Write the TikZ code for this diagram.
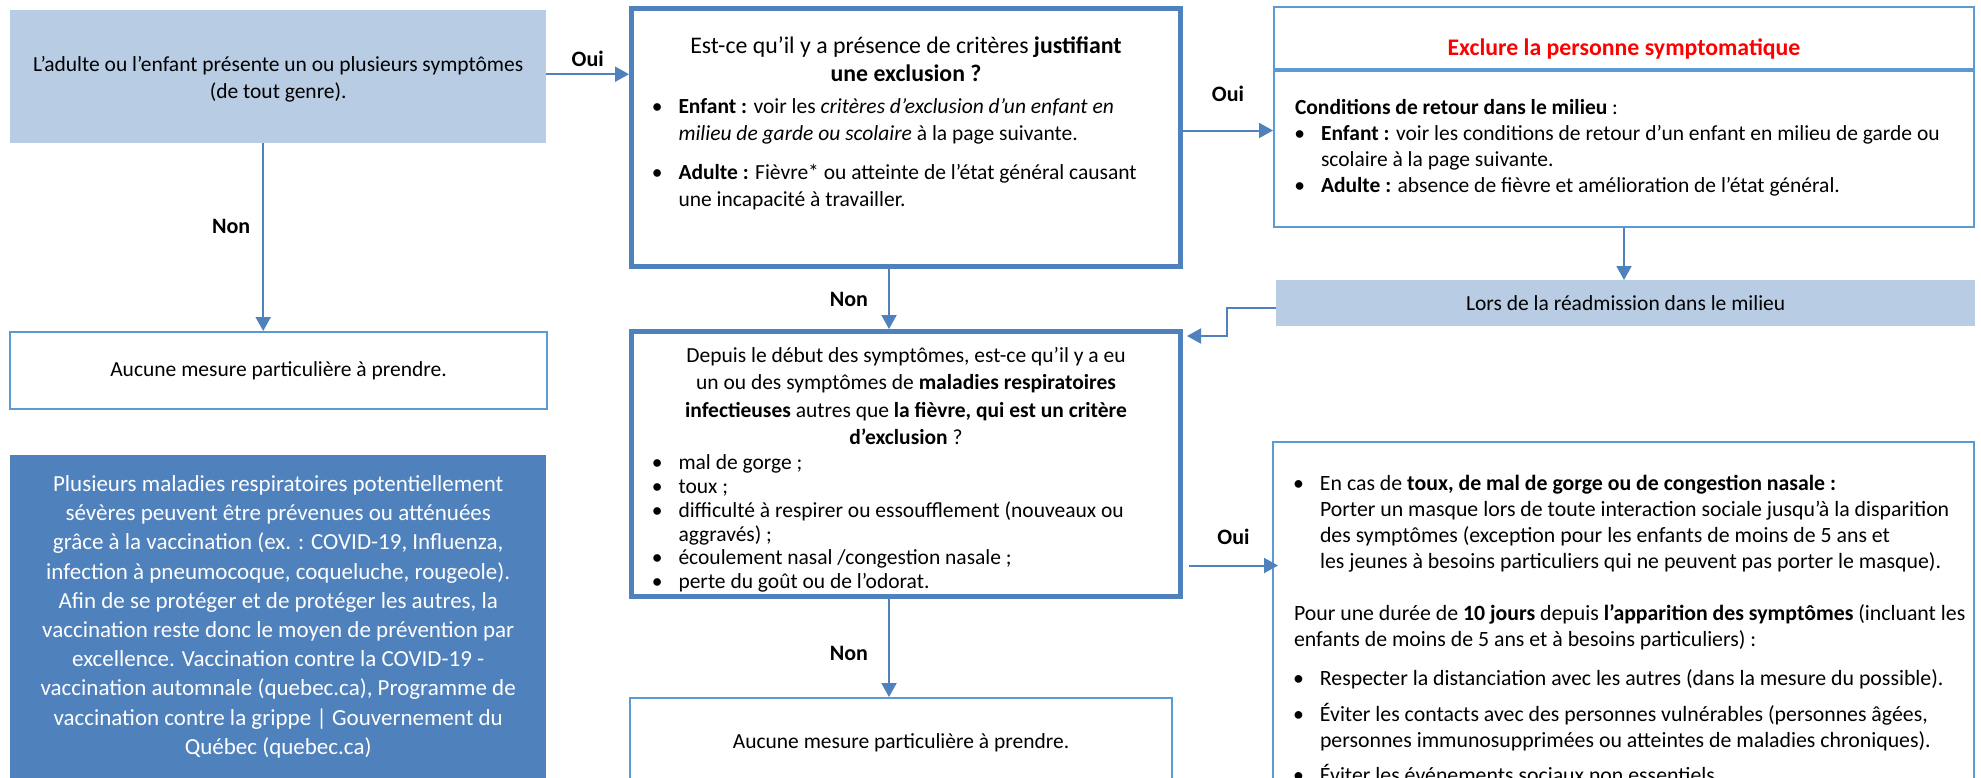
\documentclass[tikz,border=0pt]{standalone}
\usepackage{fontspec}
\setmainfont{Carlito}
\usetikzlibrary{arrows.meta,positioning}

\definecolor{bleu}{RGB}{79,129,189}
\definecolor{bleuclair}{RGB}{91,155,213}
\definecolor{bleupale}{RGB}{184,204,228}
\definecolor{rouge}{RGB}{255,0,0}

\newcommand{\premiere}[1]{\vspace*{\dimexpr#1pt-\ht\strutbox\relax}}
\newcommand{\entete}[2][\baselineskip]{{\centering\baselineskip=#1\relax\strut#2\par}}
\newcommand{\ligne}[1]{{\raggedright\leftskip=21pt\relax\noindent\strut#1\par}}
\newcommand{\puce}[1]{{\raggedright\leftskip=47pt\relax\noindent\llap{\textbullet\hspace{16pt}}\strut#1\par}}

\begin{document}
\begin{tikzpicture}[x=1pt,y=-1pt,
		texte/.style={font=\fontsize{21.5}{26}\selectfont},
		boite/.style={texte, draw=bleuclair, line width=2pt, anchor=north west, inner sep=0pt},
		boitegrasse/.style={texte, draw=bleu, line width=5pt, anchor=north west, inner sep=0pt},
		bandeau/.style={texte, fill=bleupale, anchor=north west, inner sep=0pt},
		fleche/.style={draw=bleu, line width=2pt, -{Triangle[width=15pt,length=14pt]}},
		reponse/.style={font=\fontsize{22}{24}\selectfont\bfseries, inner sep=0pt}]
		\useasboundingbox (0,0) rectangle (1981,777);
		\clip (0,0) rectangle (1981,777);
		\fill [white] (0,0) rectangle (1981,777);
		%Symptômes
		\node [bandeau] (depart) at (10,10) {\parbox[c][133pt][t]{536pt}{\fontsize{21.5}{27.5}\selectfont
				\premiere{61}
				\entete{L’adulte ou l’enfant présente un ou plusieurs symptômes\\(de tout genre).}}};
		\node [boite, minimum width=537pt, minimum height=77pt] (aucune) at (9,331) {Aucune mesure particulière à prendre.};
		%Critères d'exclusion
		\node [boitegrasse] (exclusion) at (629,6) {\parbox[c][258pt][t]{549pt}{\fontsize{21.5}{27.5}\selectfont
				\premiere{44}
				{\fontsize{23.8}{28.5}\selectfont\entete{Est-ce qu’il y a présence de critères \textbf{justifiant}\\\textbf{une exclusion ?}}}
				\vspace{4pt}
				\puce{\textbf{Enfant :} voir les \textit{critères d’exclusion d’un enfant en}\\\textit{milieu de garde ou scolaire} à la page suivante.}
				\vspace{11pt}
				\puce{\textbf{Adulte :} Fièvre* ou atteinte de l’état général causant\\une incapacité à travailler.}}};
		%Exclusion
		\node [boite] (exclure) at (1273,6) {\parbox[c][62pt][t]{700pt}{
				\premiere{47}
				{\fontsize{23.8}{28}\selectfont\entete{\textcolor{rouge}{\textbf{Exclure la personne symptomatique}}}}}};
		\node [boite] (conditions) at (exclure.south west) {\parbox[c][156pt][t]{700pt}{\fontsize{21.5}{26.3}\selectfont
				\premiere{43}
				\ligne{\textbf{Conditions de retour dans le milieu} :}
				\puce{\textbf{Enfant :} voir les conditions de retour d’un enfant en milieu de garde ou\\scolaire à la page suivante.}
				\puce{\textbf{Adulte :} absence de fièvre et amélioration de l’état général.}}};
		\node [bandeau, minimum width=699pt, minimum height=46pt] (readmission) at (1276,280) {Lors de la réadmission dans le milieu};
		%Maladies respiratoires
		\node [boitegrasse] (respiratoire) at (629,329) {\parbox[c][265pt][t]{549pt}{\fontsize{21.5}{23.7}\selectfont
				\premiere{31}
				\entete[27.4pt]{Depuis le début des symptômes, est-ce qu’il y a eu\\un ou des symptômes de \textbf{maladies respiratoires}\\\textbf{infectieuses} autres que \textbf{la fièvre, qui est un critère}\\\textbf{d’exclusion} ?}
				\vspace{1.5pt}
				\puce{mal de gorge ;}
				\puce{toux ;}
				\puce{difficulté à respirer ou essoufflement (nouveaux ou\\aggravés) ;}
				\puce{écoulement nasal /congestion nasale ;}
				\puce{perte du goût ou de l’odorat.}}};
		\node [boite, minimum width=542pt, minimum height=90pt] (aucune2) at (629,697) {Aucune mesure particulière à prendre.};
		%Mesures
		\node [boite] (mesures) at (1272,441) {\parbox[c][360pt][t]{701pt}{\fontsize{21.8}{26}\selectfont
				\premiere{48}
				\puce{En cas de \textbf{toux, de mal de gorge ou de congestion nasale :}\\Porter un masque lors de toute interaction sociale jusqu’à la disparition\\des symptômes (exception pour les enfants de moins de 5 ans et\\les jeunes à besoins particuliers qui ne peuvent pas porter le masque).}
				\vspace{26pt}
				\ligne{Pour une durée de \textbf{10 jours} depuis \textbf{l’apparition des symptômes} (incluant les\\enfants de moins de 5 ans et à besoins particuliers) :}
				\vspace{13pt}
				\puce{Respecter la distanciation avec les autres (dans la mesure du possible).}
				\vspace{9pt}
				\puce{Éviter les contacts avec des personnes vulnérables (personnes âgées,\\personnes immunosupprimées ou atteintes de maladies chroniques).}
				\vspace{9pt}
				\puce{Éviter les événements sociaux non essentiels.}}};
		%Vaccination
		\node [anchor=north west, fill=bleu, text=white, inner sep=0pt, align=center, minimum width=536pt, minimum height=323pt, font=\fontsize{23}{29.2}\selectfont] (vaccination) at (10,455) {Plusieurs maladies respiratoires potentiellement\\sévères peuvent être prévenues ou atténuées\\grâce à la vaccination (ex. : COVID-19, Influenza,\\infection à pneumocoque, coqueluche, rougeole).\\Afin de se protéger et de protéger les autres, la\\vaccination reste donc le moyen de prévention par\\excellence. Vaccination contre la COVID-19 -\\vaccination automnale (quebec.ca), Programme de\\vaccination contre la grippe | Gouvernement du\\Québec (quebec.ca)};
		%Flèches
		\draw [fleche] ([yshift=2.5pt]depart.east) -- ([yshift=2.5pt]depart.east -| exclusion.west) node [reponse, midway, above=7pt] (oui1) {Oui};
		\draw [fleche] ([xshift=-15pt]depart.south) -- ([xshift=-15pt]depart.south |- aucune.north) node [reponse, pos=0.44, left=12pt] (non1) {Non};
		\draw [fleche] ([yshift=7pt]exclusion.east) -- ([yshift=7pt]exclusion.east -| conditions.west) node [reponse, midway, above=28pt] (oui2) {Oui};
		\draw [fleche] (conditions.south) -- (conditions.south |- readmission.north);
		\draw [fleche] ([yshift=-5pt]readmission.west) -- ++(-49,0) |- ([xshift=4pt,yshift=-7pt]respiratoire.north east);
		\draw [fleche] ([xshift=-17pt]exclusion.south) -- ([xshift=-17pt]exclusion.south |- respiratoire.north) node [reponse, midway, left=20pt] (non2) {Non};
		\draw [fleche] ([xshift=-17pt]respiratoire.south) -- ([xshift=-17pt]respiratoire.south |- aucune2.north) node [reponse, pos=0.56, left=20pt] (non3) {Non};
		\draw [fleche] ([xshift=6pt,yshift=-101.5pt]respiratoire.east) -- ([xshift=6pt,yshift=-101.5pt]respiratoire.east -| mesures.west) node [reponse, midway, above=20pt] (oui3) {Oui};
	\end{tikzpicture}
\end{document}
